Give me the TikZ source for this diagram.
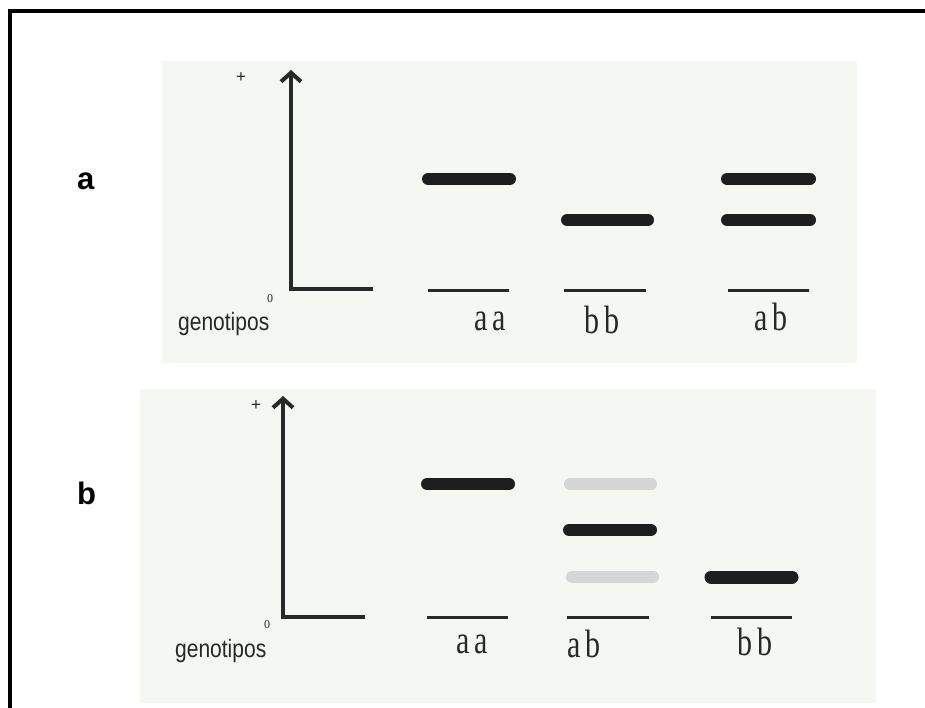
\documentclass[tikz,border=0pt]{standalone}
\usepackage{fontspec}
\usepackage{graphicx}
\setmainfont{Liberation Serif}
\setsansfont{Liberation Sans}
\usetikzlibrary{arrows.meta}
\definecolor{panelbg}{RGB}{244,247,242}
\definecolor{bandink}{RGB}{30,30,30}
\definecolor{faintband}{RGB}{214,214,214}
\definecolor{lineink}{RGB}{40,40,40}
\tikzset{
  panel/.style={fill=panelbg, draw=none},
  band/.style={line width=12pt, line cap=round, draw=bandink},
  faint/.style={line width=12pt, line cap=round, draw=faintband},
  wellline/.style={line width=3pt, draw=lineink},
  axis/.style={line width=4pt, draw=lineink},
  axisarrow/.style={line width=4pt, draw=lineink, -{Straight Barb[length=9pt,width=20pt]}},
  geno/.style={font=\fontsize{30}{30}\selectfont, text=lineink, inner sep=0pt, anchor=base west},
  genolbl/.style={font=\sffamily\fontsize{21}{21}\selectfont, text=lineink, inner sep=0pt, anchor=base west},
  panellbl/.style={font=\sffamily\bfseries\fontsize{31}{31}\selectfont, inner sep=0pt, anchor=base west},
  plus/.style={font=\sffamily\fontsize{17}{17}\selectfont, text=lineink, inner sep=0pt},
  zero/.style={font=\fontsize{12}{12}\selectfont, text=lineink, inner sep=0pt}
}
\newcommand{\tallg}[1]{\scalebox{1}[1.32]{#1}}
\begin{document}
\begin{tikzpicture}[x=1pt,y=-1pt]
\useasboundingbox (0,0) rectangle (925,707);
\fill[white] (0,0) rectangle (925,707);
% frame
\draw[line width=4pt, line join=miter] (10,720) -- (10,11) -- (925,11);
% panel backgrounds
\path[panel] (162,61) rectangle (857,363);
\path[panel] (140,389) rectangle (876,703);

% ---------- panel a ----------
\node[panellbl] (la) at (77,189) {a};
\coordinate (a0) at (291,289);
\coordinate (atop) at (291,70);
\coordinate (aend) at (373,289);
\draw[axis, line join=miter] (aend) -- (a0) -- (291,80);
\draw[axisarrow] (a0) -- (atop);
\node[plus] (aplus) at (241,78) {+};
\node[zero] (azero) at (270,299) {0};
\node[genolbl] (agen) at (178,330) {\scalebox{1}[1.2]{genotipos}};
% wells
\coordinate (aw1l) at (428,290); \coordinate (aw1r) at (509,290);
\coordinate (aw2l) at (564,290); \coordinate (aw2r) at (646,290);
\coordinate (aw3l) at (728,290); \coordinate (aw3r) at (809,290);
\draw[wellline] (aw1l) -- (aw1r);
\draw[wellline] (aw2l) -- (aw2r);
\draw[wellline] (aw3l) -- (aw3r);
% bands
\coordinate (ab1l) at (428,179); \coordinate (ab1r) at (510,179);
\coordinate (ab2l) at (567,220); \coordinate (ab2r) at (648,220);
\coordinate (ab3l) at (727,179); \coordinate (ab3r) at (810,179);
\coordinate (ab4l) at (727,220); \coordinate (ab4r) at (810,220);
\draw[band] (ab1l) -- (ab1r);
\draw[band] (ab2l) -- (ab2r);
\draw[band] (ab3l) -- (ab3r);
\draw[band] (ab4l) -- (ab4r);
% genotype labels
\node[geno] (aaa) at (474,330) {\tallg{a\,a}};
\node[geno] (abb) at (584,333) {\tallg{b\,b}};
\node[geno] (aab) at (754,330) {\tallg{a\,b}};

% ---------- panel b ----------
\node[panellbl] (lb) at (77,504) {b};
\coordinate (b0) at (283,617);
\coordinate (btop) at (283,396);
\coordinate (bend) at (365,617);
\draw[axis, line join=miter] (bend) -- (b0) -- (283,406);
\draw[axisarrow] (b0) -- (btop);
\node[plus] (bplus) at (256,406) {+};
\node[zero] (bzero) at (267,625) {0};
\node[genolbl] (bgen) at (175,657) {\scalebox{1}[1.2]{genotipos}};
% wells
\coordinate (bw1l) at (427,617); \coordinate (bw1r) at (508,617);
\coordinate (bw2l) at (567,617); \coordinate (bw2r) at (649,617);
\coordinate (bw3l) at (711,617); \coordinate (bw3r) at (792,617);
\draw[wellline] (bw1l) -- (bw1r);
\draw[wellline] (bw2l) -- (bw2r);
\draw[wellline] (bw3l) -- (bw3r);
% bands
\coordinate (bb1l) at (427,484); \coordinate (bb1r) at (509,484);
\coordinate (bb2l) at (570,484); \coordinate (bb2r) at (651,484);
\coordinate (bb3l) at (569,530); \coordinate (bb3r) at (651,530);
\coordinate (bb4l) at (572,577); \coordinate (bb4r) at (653,577);
\coordinate (bb5l) at (711,577); \coordinate (bb5r) at (792,577);
\draw[band] (bb1l) -- (bb1r);
\draw[faint] (bb2l) -- (bb2r);
\draw[band] (bb3l) -- (bb3r);
\draw[faint] (bb4l) -- (bb4r);
\draw[band, line width=13pt] (bb5l) -- (bb5r);
% genotype labels
\node[geno] (baa) at (456,653) {\tallg{a\,a}};
\node[geno] (bab) at (567,657) {\tallg{a\,b}};
\node[geno] (bbb) at (737,655) {\tallg{b\,b}};
\end{tikzpicture}
\end{document}
